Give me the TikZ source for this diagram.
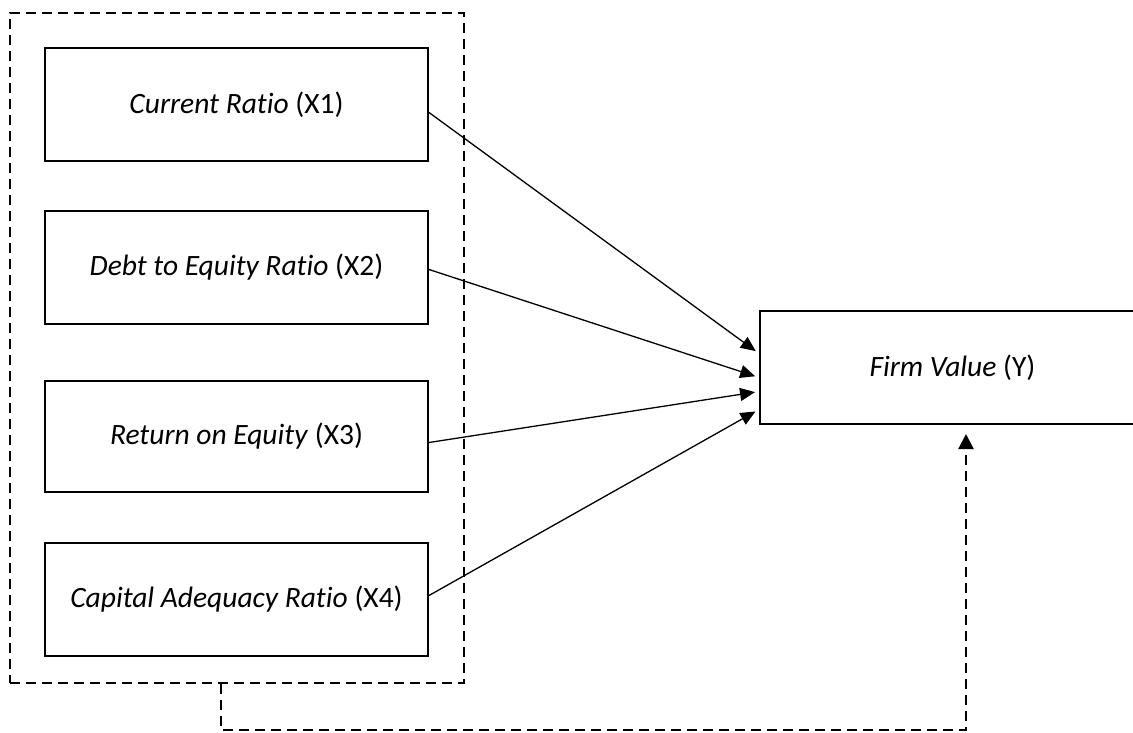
\documentclass[tikz,border=0pt]{standalone}
\usepackage{fontspec}
\setmainfont[Ligatures=NoCommon]{Carlito}
\usetikzlibrary{arrows.meta,calc}
\begin{document}
\begin{tikzpicture}[x=1pt,y=-1pt,
  varbox/.style={draw,line width=2pt,minimum width=383pt,minimum height=113pt,inner sep=0pt,font=\fontsize{29.5}{34}\selectfont},
  grpbox/.style={draw,line width=2.2pt,dash pattern=on 10pt off 6pt,minimum width=454pt,minimum height=670pt,inner sep=0pt},
  linkarrow/.style={line width=1.3pt,-{Triangle[length=15pt,width=13pt]},shorten >=4pt},
  backarrow/.style={line width=2.2pt,dash pattern=on 10pt off 6pt,-{Triangle[length=15pt,width=15pt]}}
]
\useasboundingbox (0,0) rectangle (1133,732);
\clip (0,0) rectangle (1133,732);
\node[grpbox] (grp) at (237,348) {};
\node[varbox] (b1) at (236.5,104.5) {\textit{Current Ratio} (X1)};
\node[varbox] (b2) at (236.5,267.5) {\textit{Debt to Equity Ratio} (X2)};
\node[varbox,minimum height=111pt] (b3) at (236.5,436.5) {\textit{Return on Equity} (X3)};
\node[varbox] (b4) at (236.5,599.5) {\textit{Capital Adequacy Ratio} (X4)};
\node[varbox,minimum width=385pt] (fv) at (952.5,367.5) {\textit{Firm Value} (Y)};
\draw[linkarrow] ([yshift=-8pt]b1.east) -- ([yshift=14pt]fv.west);
\draw[linkarrow] ([yshift=-2pt]b2.east) -- ([yshift=-10pt]fv.west);
\draw[linkarrow] ([yshift=-6pt]b3.east) -- ([yshift=-24pt]fv.west);
\draw[linkarrow] ([yshift=4pt]b4.east) -- ([yshift=-42pt]fv.west);
\coordinate (c1) at (221,730);
\coordinate (c2) at (966,730);
\draw[backarrow,shorten >=9pt] (grp.south -| c1) -- (c1) -- (c2) -- (fv.south -| c2);
\end{tikzpicture}
\end{document}
